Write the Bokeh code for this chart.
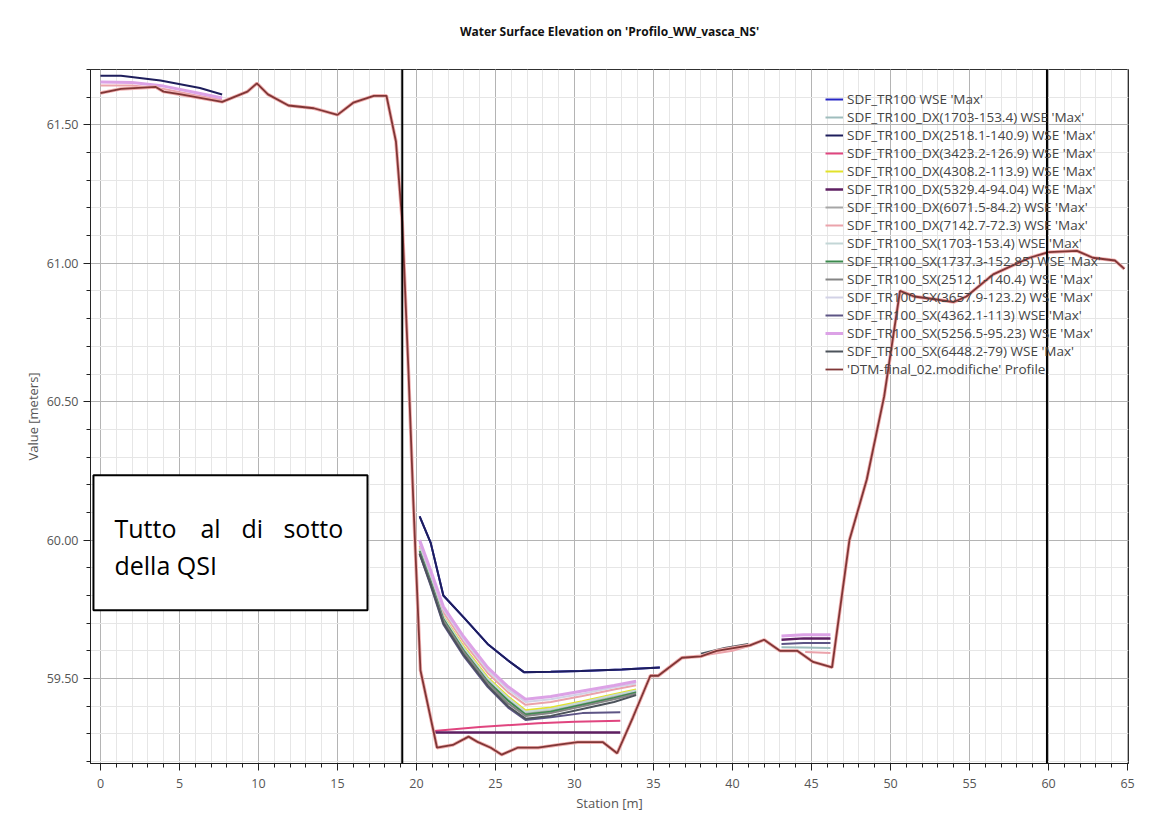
from bokeh.plotting import figure
from bokeh.models import (Range1d, Span, BoxAnnotation, Label, Title,
                          NumeralTickFormatter, SingleIntervalTicker)
from bokeh.embed import file_html
from bokeh.resources import INLINE

nan = float("nan")

# ---------------- data ----------------
terrain_x = [0.0, 1.3, 3.5, 4.0, 5.1, 7.7, 9.3, 9.9, 10.6, 11.9, 13.5, 15.0, 16.0, 17.3, 18.1, 18.7, 19.1,
             19.5, 19.8, 20.25, 21.3, 22.3, 23.3, 23.9, 24.7, 25.4, 26.4, 27.7, 28.9, 30.2, 31.8, 32.7,
             33.7, 34.8, 35.3, 36.8, 38.0, 39.0, 41.1, 42.0, 43.0, 44.1, 45.1, 46.3, 47.4, 48.5, 49.6,
             50.6, 51.5, 52.8, 54.0, 54.8, 56.5, 58.8, 60.0, 61.8, 62.8, 64.2, 64.8]
terrain_y = [61.615, 61.63, 61.637, 61.62, 61.61, 61.583, 61.62, 61.65, 61.61, 61.57, 61.56, 61.536,
             61.58, 61.605, 61.605, 61.44, 61.15, 60.6, 60.14, 59.53, 59.25, 59.26, 59.29, 59.27, 59.25,
             59.225, 59.25, 59.25, 59.26, 59.27, 59.27, 59.23, 59.36, 59.51, 59.51, 59.575, 59.58, 59.60,
             59.62, 59.64, 59.60, 59.60, 59.56, 59.54, 60.0, 60.22, 60.52, 60.9, 60.88, 60.87, 60.86,
             60.88, 60.96, 61.02, 61.04, 61.045, 61.02, 61.01, 60.98]

# WSE 'Max' series (NaN separates reaches of the same profile)
s01_x = [20.2, 20.9, 21.7, 23.0, 24.5, 25.8, 26.8, 28.5, 30.4, 33.0, 35.4]
s01_y = [60.086, 59.99, 59.80, 59.72, 59.625, 59.565, 59.523, 59.524, 59.527, 59.533, 59.54]
s02_x = [20.2, 20.9, 21.7, 23.0, 24.5, 25.8, 26.9, 28.5, 30.5, 32.5, 33.9, nan, 43.1, 44.5, 46.2]
s02_y = [59.962, 59.852, 59.718, 59.603, 59.492, 59.423, 59.373, 59.383, 59.408, 59.433, 59.452, nan,
         59.613, 59.612, 59.61]
s03_x = [0.0, 1.3, 3.8, 6.3, 7.7, nan, 20.2, 20.9, 21.7, 23.0, 24.5, 25.8, 26.8, 28.5, 30.4, 33.0, 35.4]
s03_y = [61.677, 61.677, 61.66, 61.633, 61.61, nan, 60.086, 59.99, 59.80, 59.72, 59.625, 59.565, 59.523,
         59.524, 59.527, 59.533, 59.54]
s04_x = [21.1, 24.0, 27.7, 30.0, 32.9]
s04_y = [59.31, 59.325, 59.338, 59.344, 59.347]
s05_x = [20.2, 20.9, 21.7, 23.0, 24.5, 25.8, 26.9, 28.5, 30.5, 32.5, 33.9]
s05_y = [59.97, 59.86, 59.725, 59.615, 59.505, 59.435, 59.385, 59.395, 59.418, 59.443, 59.46]
s06_x = [21.1, 32.9, nan, 43.1, 44.5, 46.2]
s06_y = [59.305, 59.305, nan, 59.64, 59.645, 59.645]
s07_x = [20.2, 20.9, 21.7, 23.0, 24.5, 25.8, 26.9, 28.5, 30.5, 32.5, 33.9]
s07_y = [59.965, 59.855, 59.72, 59.605, 59.495, 59.425, 59.375, 59.385, 59.41, 59.435, 59.455]
s08_x = [0.0, 2.0, 4.0, 6.0, 7.7, nan, 20.2, 20.9, 21.7, 23.0, 24.5, 25.8, 26.9, 28.5, 30.5, 32.5, 33.9,
         nan, 38.3, 40.0, 41.2, nan, 44.6, 46.2]
s08_y = [61.642, 61.642, 61.63, 61.607, 61.59, nan, 59.98, 59.87, 59.74, 59.63, 59.52, 59.45, 59.405,
         59.415, 59.437, 59.46, 59.476, nan, 59.585, 59.60, 59.62, nan, 59.596, 59.592]
s09_x = [20.2, 20.9, 21.7, 23.0, 24.5, 25.8, 26.9, 28.5, 30.5, 32.5, 33.9]
s09_y = [59.968, 59.858, 59.722, 59.61, 59.5, 59.43, 59.38, 59.39, 59.414, 59.44, 59.457]
s10_x = [20.2, 20.9, 21.7, 23.0, 24.5, 25.8, 26.9, 28.5, 30.5, 32.5, 33.9]
s10_y = [59.96, 59.85, 59.715, 59.60, 59.49, 59.42, 59.37, 59.38, 59.405, 59.43, 59.45]
s11_x = [20.2, 20.9, 21.7, 23.0, 24.5, 25.8, 26.9, 28.5, 30.5, 32.5, 33.9]
s11_y = [59.955, 59.845, 59.71, 59.595, 59.485, 59.41, 59.365, 59.375, 59.40, 59.425, 59.445]
s12_x = [20.2, 20.9, 21.7, 23.0, 24.5, 25.8, 26.9, 28.5, 30.5, 32.5, 33.9]
s12_y = [59.99, 59.88, 59.75, 59.64, 59.53, 59.46, 59.415, 59.425, 59.445, 59.468, 59.482]
s13_x = [20.2, 20.9, 21.7, 23.0, 24.5, 25.8, 26.9, 28.5, 30.5, 32.9, nan, 43.1, 44.5, 46.2]
s13_y = [59.95, 59.835, 59.695, 59.58, 59.47, 59.395, 59.35, 59.36, 59.375, 59.378, nan,
         59.625, 59.628, 59.628]
s14_x = [0.0, 2.0, 4.0, 6.0, 7.7, nan, 20.2, 20.9, 21.7, 23.0, 24.5, 25.8, 26.9, 28.5, 30.5, 32.5, 33.9,
         nan, 43.1, 44.5, 46.2]
s14_y = [61.655, 61.653, 61.64, 61.617, 61.597, nan, 60.0, 59.89, 59.76, 59.65, 59.54, 59.47, 59.425,
         59.435, 59.455, 59.475, 59.49, nan, 59.654, 59.658, 59.658]
s15_x = [20.2, 20.9, 21.7, 23.0, 24.5, 25.8, 26.9, 28.5, 30.5, 32.5, 33.9, nan, 38.0, 39.5, 41.0]
s15_y = [59.95, 59.84, 59.70, 59.585, 59.475, 59.40, 59.355, 59.365, 59.39, 59.415, 59.44, nan,
         59.59, 59.61, 59.625]

series_names = [
    "SDF_TR100 WSE 'Max'",
    "SDF_TR100_DX(1703-153.4) WSE 'Max'",
    "SDF_TR100_DX(2518.1-140.9) WSE 'Max'",
    "SDF_TR100_DX(3423.2-126.9) WSE 'Max'",
    "SDF_TR100_DX(4308.2-113.9) WSE 'Max'",
    "SDF_TR100_DX(5329.4-94.04) WSE 'Max'",
    "SDF_TR100_DX(6071.5-84.2) WSE 'Max'",
    "SDF_TR100_DX(7142.7-72.3) WSE 'Max'",
    "SDF_TR100_SX(1703-153.4) WSE 'Max'",
    "SDF_TR100_SX(1737.3-152.85) WSE 'Max'",
    "SDF_TR100_SX(2512.1-140.4) WSE 'Max'",
    "SDF_TR100_SX(3657.9-123.2) WSE 'Max'",
    "SDF_TR100_SX(4362.1-113) WSE 'Max'",
    "SDF_TR100_SX(5256.5-95.23) WSE 'Max'",
    "SDF_TR100_SX(6448.2-79) WSE 'Max'",
]
terrain_name = "'DTM-final_02.modifiche' Profile"
series_x = [s01_x, s02_x, s03_x, s04_x, s05_x, s06_x, s07_x, s08_x, s09_x, s10_x, s11_x, s12_x, s13_x,
            s14_x, s15_x]
series_y = [s01_y, s02_y, s03_y, s04_y, s05_y, s06_y, s07_y, s08_y, s09_y, s10_y, s11_y, s12_y, s13_y,
            s14_y, s15_y]
series_colors = ["#2626c4", "#9fbdbd", "#1e1e5c", "#e0457f", "#e2e22a", "#5e1f62", "#a6a6a6",
                 "#eba3ab", "#c3d6d6", "#3c8a4e", "#858585", "#d2d2e6", "#5d5585", "#dca2e6", "#4c535b"]
series_widths = [2, 2, 2, 2, 2, 2.5, 2, 2, 2, 2, 2, 2, 2, 3, 2]

marker_lines = [19.1, 59.9]

title_text = "Water Surface Elevation on 'Profilo_WW_vasca_NS'"
note_words = ["Tutto", "al", "di", "sotto"]
note_line2 = "della QSI"

FONT = "Open Sans"

p = figure(width=1165, height=827, output_backend="svg", toolbar_location=None, title=None,
           x_range=Range1d(-0.63, 65.06), y_range=Range1d(59.193, 61.70),
           min_border_left=90, min_border_right=37, min_border_top=69, min_border_bottom=64)
p.background_fill_color = "white"
p.border_fill_color = "white"
p.outline_line_color = "#303030"
p.outline_line_width = 1

# spacer between frame and title, then the title itself
p.add_layout(Title(text=" ", text_font_size="1px", standoff=6), "above")
p.add_layout(Title(text=title_text, align="center", vertical_align="middle", text_font=FONT,
                   text_font_size="12px", text_font_style="bold", text_color="#111111",
                   standoff=40), "above")

# axes
p.xaxis.ticker = SingleIntervalTicker(interval=5, num_minor_ticks=5)
p.yaxis.ticker = SingleIntervalTicker(interval=0.5, num_minor_ticks=5)
p.yaxis.formatter = NumeralTickFormatter(format="0.00")
for ax in (p.xaxis[0], p.yaxis[0]):
    ax.axis_line_color = "#202020"
    ax.major_tick_line_color = "#202020"
    ax.minor_tick_line_color = "#202020"
    ax.major_tick_out = 7
    ax.major_tick_in = 0
    ax.minor_tick_out = 4
    ax.minor_tick_in = 0
    ax.major_label_text_font = FONT
    ax.major_label_text_font_size = "12.5px"
    ax.major_label_text_color = "#555555"
    ax.axis_label_text_font = FONT
    ax.axis_label_text_font_size = "13px"
    ax.axis_label_text_font_style = "normal"
    ax.axis_label_text_color = "#555555"
p.xaxis.axis_label = "Station [m]"
p.yaxis.axis_label = "Value [meters]"
p.xaxis.major_label_standoff = 8
p.xaxis.axis_label_standoff = 3
p.yaxis.major_label_standoff = 5
p.yaxis.axis_label_standoff = 2

# grid
for g in (p.xgrid[0], p.ygrid[0]):
    g.grid_line_color = "#b4b4b4"
    g.grid_line_width = 1
    g.minor_grid_line_color = "#e6e6e6"
    g.minor_grid_line_width = 1

# series
for xs, ys, name, col, w in zip(series_x, series_y, series_names, series_colors, series_widths):
    p.line(xs, ys, line_color=col, line_width=w, legend_label=name)

p.line(terrain_x, terrain_y, line_color="#f0b0b0", line_width=3.5)
p.line(terrain_x, terrain_y, line_color="#803636", line_width=1.8, legend_label=terrain_name)

# vertical reference lines
for loc in marker_lines:
    p.add_layout(Span(location=loc, dimension="height", line_color="black", line_width=2))

# annotation box
box = BoxAnnotation(left=-0.443, right=16.9, bottom=59.747, top=60.234, fill_color="white",
                    fill_alpha=1.0, line_color="black", line_alpha=1.0, line_width=2)
p.add_layout(box)
for t, xx in zip(note_words, [0.886, 6.33, 8.92, 11.58]):
    p.add_layout(Label(x=xx, y=60.043, text=t, text_font=FONT, text_font_size="25px",
                       text_color="black", text_baseline="alphabetic", text_align="left"))
p.add_layout(Label(x=0.886, y=59.910, text=note_line2, text_font=FONT, text_font_size="25px",
                   text_color="black", text_baseline="alphabetic", text_align="left"))

# legend
lg = p.legend[0]
lg.location = (735, 385)
lg.border_line_alpha = 0
lg.background_fill_alpha = 0
lg.label_text_font = FONT
lg.label_text_font_size = "13.5px"
lg.label_text_color = "#444444"
lg.glyph_width = 18
lg.glyph_height = 18
lg.label_height = 18
lg.label_standoff = 4
lg.spacing = 0
lg.padding = 0
lg.margin = 0

open("out.html", "w").write(file_html(p, INLINE))
